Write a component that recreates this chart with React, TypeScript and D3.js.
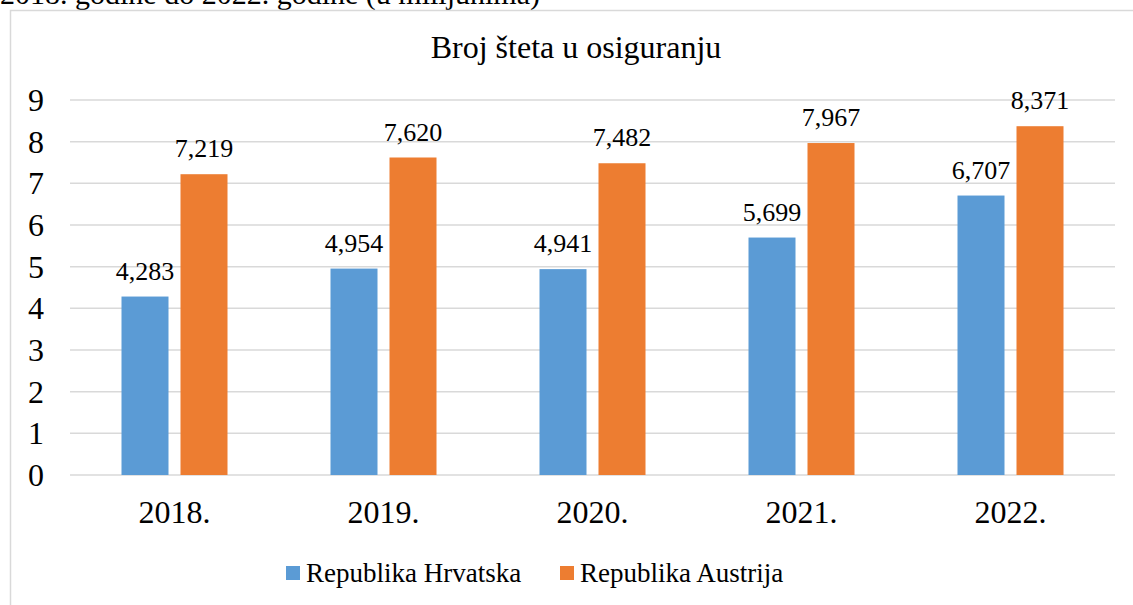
import React from 'react';
import * as d3 from 'd3';

const years = ['2018.', '2019.', '2020.', '2021.', '2022.'];
const hrvatska = [4.283, 4.954, 4.941, 5.699, 6.707];
const austrija = [7.219, 7.62, 7.482, 7.967, 8.371];
const seriesNames = ['Republika Hrvatska', 'Republika Austrija'];
const seriesColors = ['#5B9BD5', '#ED7D31'];
const yTicks = [0, 1, 2, 3, 4, 5, 6, 7, 8, 9];

const W = 1133;
const H = 605;
const font = '"Liberation Serif", "Times New Roman", serif';

// croatian style numbers: decimal comma
const hr = d3.formatLocale({ decimal: ',', thousands: '.', grouping: [3], currency: ['', ' kn'] });
const fmt = hr.format('.3f');

const App = () => {
  const plot = { left: 70, right: 1115, top: 100, bottom: 475 };

  const x = d3.scaleBand<string>()
    .domain(years)
    .range([plot.left, plot.right]);

  // two bars per year with a small gap between them
  const barW = 47;
  const gap = 12;

  const y = d3.scaleLinear()
    .domain([0, 9])
    .range([plot.bottom, plot.top]);

  const series = [hrvatska, austrija];
  const ts = { fontFamily: font };

  return (
    <svg
      width={W}
      height={H}
      style={{ position: 'absolute', left: 0, top: 0, background: '#fff', fontFamily: font }}
    >
      {/* caption cut off at top of the page */}
      <text x={0} y={4} fontSize={30} fill="#000" style={ts}>
        2018. godine do 2022. godine (u milijunima)
      </text>

      {/* chart frame */}
      <rect x={10.5} y={10.5} width={W + 10} height={H + 10} fill="none" stroke="#d9d9d9" strokeWidth={1.5} />

      <text x={576} y={58} fontSize={32} textAnchor="middle" fill="#000" style={ts}>
        Broj šteta u osiguranju
      </text>

      {yTicks.map(t => (
        <g key={t}>
          <line x1={plot.left} x2={plot.right} y1={y(t)} y2={y(t)} stroke="#d9d9d9" strokeWidth={1.5} />
          <text x={44} y={y(t) + 11} fontSize={32} textAnchor="end" fill="#000" style={ts}>{t}</text>
        </g>
      ))}

      {years.map((yr, i) => {
        const cx = x(yr)! + x.bandwidth() / 2;
        return (
          <g key={yr}>
            {series.map((s, j) => {
              const bx = j === 0 ? cx - gap / 2 - barW : cx + gap / 2;
              return (
                <g key={j}>
                  <rect x={bx} y={y(s[i])} width={barW} height={y(0) - y(s[i])} fill={seriesColors[j]} />
                  <text x={bx + barW / 2} y={y(s[i]) - 17} fontSize={26} textAnchor="middle" fill="#000" style={ts}>
                    {fmt(s[i])}
                  </text>
                </g>
              );
            })}
            <text x={cx} y={523} fontSize={32} textAnchor="middle" fill="#000" style={ts}>{yr}</text>
          </g>
        );
      })}

      {/* legend */}
      {seriesNames.map((n, j) => {
        const lx = j === 0 ? 286 : 560;
        return (
          <g key={n}>
            <rect x={lx} y={566} width={14} height={14} fill={seriesColors[j]} />
            <text x={lx + 20} y={582} fontSize={27} fill="#000" style={ts}>{n}</text>
          </g>
        );
      })}
    </svg>
  );
};

export default App;
